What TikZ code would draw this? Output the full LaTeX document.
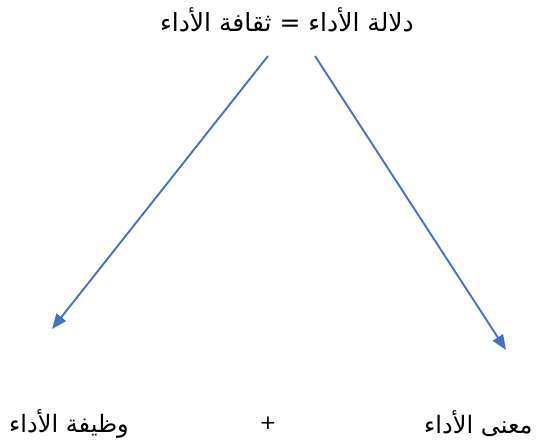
\documentclass[tikz,border=0pt]{standalone}
\usepackage{fontspec}
\TeXXeTstate=1
\newfontfamily\arabicfont[Script=Arabic]{DejaVu Sans}
\usetikzlibrary{arrows.meta}
\definecolor{arrowblue}{HTML}{4472C4}
\tikzset{
  lbl/.style={font=\arabicfont\fontsize{24}{28}\selectfont, inner sep=0pt},
  toplbl/.style={font=\arabicfont\fontsize{25}{29}\selectfont, inner sep=0pt},
  pluslbl/.style={font=\arabicfont\fontsize{20}{24}\selectfont, inner sep=0pt},
  conn/.style={draw=arrowblue, line width=1.9pt, -{Triangle[length=15pt,width=12pt]}}
}
\begin{document}
\begin{tikzpicture}[x=1pt,y=-1pt]
\useasboundingbox (0,0) rectangle (536,443);
\node[toplbl] (top) at (287,20) {\beginR دلالة الأداء  = ثقافة الأداء\endR};
\coordinate (s1) at (268,56);
\coordinate (s2) at (315,56);
\coordinate (e1) at (52,329);
\coordinate (e2) at (506,350);
\draw[conn] (s1) -- (e1);
\draw[conn] (s2) -- (e2);
\node[lbl] (left) at (69,424) {\beginR وظيفة الأداء\endR};
\node[pluslbl] (plus) at (268,423) {+};
\node[lbl, anchor=west] (right) at (424,424) {\beginR معنى الأداء\endR};
\end{tikzpicture}
\end{document}
